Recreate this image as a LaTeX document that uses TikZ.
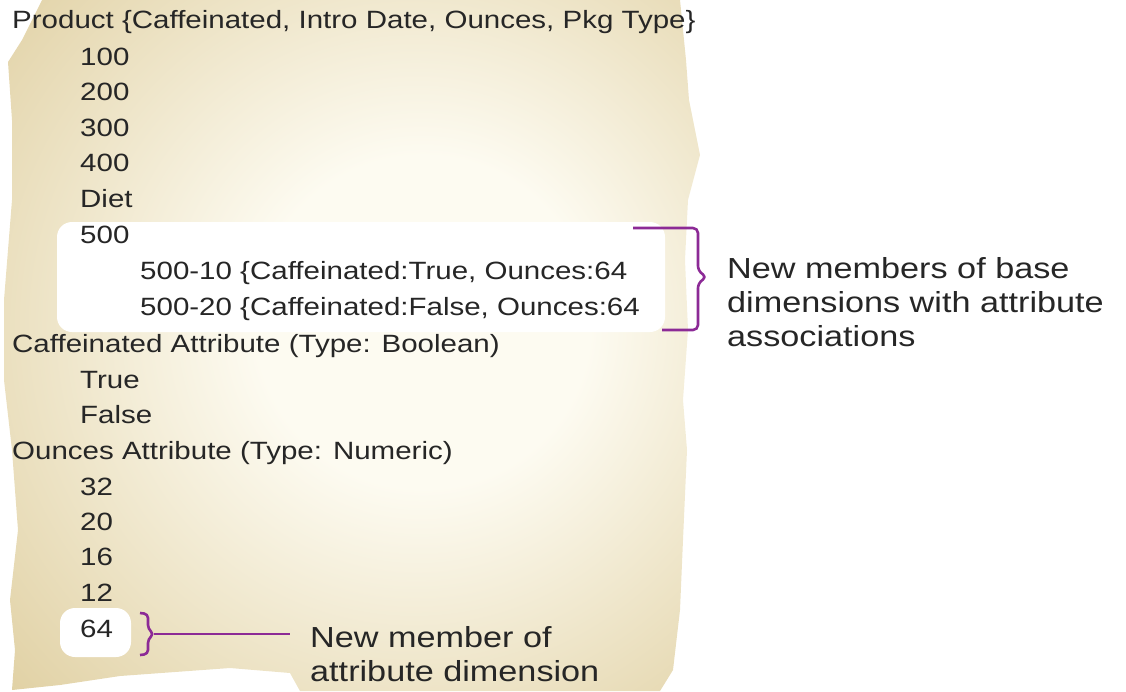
\documentclass[tikz,border=0pt]{standalone}
\usepackage{fontspec}
\setmainfont{Liberation Sans}[FakeStretch=1.18]
\usetikzlibrary{calc}
\definecolor{tanedge}{RGB}{214,193,135}
\definecolor{tancream}{RGB}{253,251,241}
\definecolor{inktext}{RGB}{38,38,38}
\definecolor{bracepurple}{RGB}{140,42,150}
\pgfdeclareradialshading{parchment}{\pgfpoint{6bp}{2bp}}{%
 color(0bp)=(tancream); color(12bp)=(tancream); color(48bp)=(tanedge); color(80bp)=(tanedge)}

\begin{document}
\begin{tikzpicture}[x=1pt,y=-1pt,
 tx/.style={anchor=base west,inner sep=0pt,text=inktext,font=\fontsize{25}{30}\selectfont},
 note/.style={tx,align=left,font=\fontsize{29}{34}\selectfont},
 hl/.style={fill=white,draw=none,rounded corners=15pt},
 br/.style={draw=bracepurple,line width=2.6pt,line join=round,rounded corners=5pt}]
\useasboundingbox (0,0) rectangle (1126,691);
% parchment background
\shade[shading=parchment] (42,0) -- (680,0) -- (686,60) -- (689,100) -- (700,155) -- (688,200)
 -- (685,260) -- (688,330) -- (683,400) -- (687,450) -- (683,540) -- (680,610) -- (673,670)
 -- (660,691) -- (300,691) -- (290,673) -- (230,668) -- (120,676) -- (60,685) -- (12,690)
 -- (15,650) -- (10,600) -- (18,530) -- (12,450) -- (4,380) -- (4,300) -- (12,200)
 -- (12,120) -- (8,62) -- (22,40) -- cycle;
% highlight boxes
\path[hl] (57,222) rectangle (665,332);
\path[hl] (60,608) rectangle (131,657);
% tree text
\node[tx] (prod) at (12,28) {Product \{Caffeinated, Intro Date, Ounces, Pkg Type\}};
\node[tx] (m100) at (80,65) {100};
\node[tx] (m200) at (80,100) {200};
\node[tx] (m300) at (80,136) {300};
\node[tx] (m400) at (80,171) {400};
\node[tx] (diet) at (80,207) {Diet};
\node[tx] (m500) at (80,243) {500};
\node[tx] (m510) at (140,279) {500-10 \{Caffeinated:True, Ounces:64};
\node[tx] (m520) at (140,315) {500-20 \{Caffeinated:False, Ounces:64};
\node[tx] (caff) at (12,352) {Caffeinated Attribute (Type: Boolean)};
\node[tx] (ctrue) at (80,388) {True};
\node[tx] (cfalse) at (80,423) {False};
\node[tx] (ounc) at (12,459) {Ounces Attribute (Type: Numeric)};
\node[tx] (o32) at (80,495) {32};
\node[tx] (o20) at (80,530) {20};
\node[tx] (o16) at (80,565) {16};
\node[tx] (o12) at (80,601) {12};
\node[tx] (o64) at (80,637) {64};
% annotations (base = last line)
\node[note] (newbase) at (727,346) {New members of base\\dimensions with attribute\\associations};
\node[note] (newattr) at (310,681) {New member of\\attribute dimension};
% brackets
\coordinate (b1top) at (633,228);
\coordinate (b1bot) at (662,330);
\coordinate (b1tip) at (707,277);
\draw[br] (b1top) -- (698,228) -- (698,271) -- (b1tip) -- (698,283) -- (698,330) -- (b1bot);
\coordinate (b2top) at (140,613);
\coordinate (b2bot) at (140,655);
\coordinate (b2mid) at (154,634);
\coordinate (b2end) at (290,634);
\draw[br,rounded corners=4pt] (b2top) -- (148,614) -- (148,629) -- (b2mid) -- (148,639) -- (148,654) -- (b2bot);
\draw[br] (b2mid) -- (b2end);
\end{tikzpicture}
\end{document}
